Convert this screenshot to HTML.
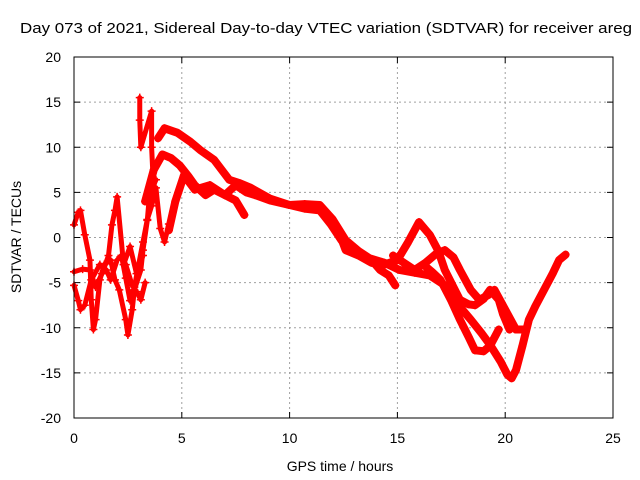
<!DOCTYPE html>
<html><head><meta charset="utf-8"><style>
body{margin:0;background:#fff;}
svg{display:block;font-family:"Liberation Sans",sans-serif;}
</style></head><body>
<svg id="chart" width="640" height="480" viewBox="0 0 640 480">
<rect x="0" y="0" width="640" height="480" fill="#fff"/>
<text x="20" y="33" font-size="15" fill="#000" textLength="612" lengthAdjust="spacingAndGlyphs">Day 073 of 2021, Sidereal Day-to-day VTEC variation (SDTVAR) for receiver areg</text>
<g id="grid"></g>
<g id="ticks"></g>
<g id="series"></g>
<rect x="74" y="57" width="539" height="361" fill="none" stroke="#000" stroke-width="1"/>
<text transform="translate(21,237) rotate(-90)" text-anchor="middle" font-size="14">SDTVAR / TECUs</text>
<text x="340" y="471" text-anchor="middle" font-size="14">GPS time / hours</text>
</svg>
<script>
const xTicks=[0,5,10,15,20,25];
const yTicks=[20,15,10,5,0,-5,-10,-15,-20];
const trackA_t=[3.9,4.2,4.8,5.4,5.85,6.5,7.2,7.7,8.2,9.1,10,10.7,11.4,12.0,12.6,13.2,13.7,14.4,15.1,15.8,16.5,17.2,17.8,18.4,18.9,19.3,19.8,20.1,20.3,20.5,20.8,21.1,21.4,21.8,22.2,22.5,22.8];
const trackA_v=[11,12.1,11.6,10.6,9.7,8.6,6.4,6.0,5.5,4.3,3.6,3.7,3.6,2.0,-0.3,-1.5,-2.3,-2.8,-3.6,-3.9,-4.2,-5.3,-7.4,-9.1,-10.6,-11.9,-13.8,-15.2,-15.6,-14.7,-12.0,-9.1,-7.6,-5.8,-4.0,-2.5,-1.9];
const trackB_t=[3.3,3.7,4.1,4.5,4.9,5.3,5.6,6.1,6.5,7.0,7.5,7.9];
const trackB_v=[4.0,7.5,9.2,8.8,8.0,6.8,5.8,4.7,5.3,4.7,4.1,2.5];
const trackC_t=[4.4,4.7,5.1,5.6,6.3,7.0,7.5,8.0,8.4,9.1,10,10.7,11.4,11.9,12.4,13.2,13.8,14.2,14.6,14.9];
const trackC_v=[0.8,4.0,6.9,5.3,5.8,4.7,5.8,5.0,4.7,4.1,3.6,3.2,3.0,1.5,-0.3,-1.9,-2.5,-3.6,-4.2,-5.3];
const trackD_t=[11.9,12.3,12.6,13.2,13.8,14.4,15.0,15.5,16.0,16.5,16.9,17.2,17.6,17.9,18.3,18.6,19.0,19.3,19.7,19.9,20.2];
const trackD_v=[1.9,0.5,-1.4,-2.0,-2.8,-3.0,-2.5,-0.5,1.7,0.3,-1.5,-3.6,-5.5,-6.9,-7.4,-7.5,-6.8,-5.8,-6.9,-8.5,-10.2];
const trackE_t=[14.8,15.3,15.8,16.3,16.8,17.2,17.6,17.9,18.4,18.8,19.2,19.5,20.0,20.5,20.9];
const trackE_v=[-2.0,-2.8,-3.6,-2.8,-1.8,-1.4,-2.2,-3.6,-5.8,-6.9,-6.4,-5.8,-8.0,-10.2,-10.2];
const trackF_t=[16.2,16.6,17.0,17.5,17.9,18.3,18.6,19.0,19.3,19.7];
const trackF_v=[-3.0,-3.8,-4.7,-7.0,-9.1,-11.0,-12.5,-12.6,-12.0,-10.2];
const trackG_t=[0,0.2,0.3,0.5,0.74,0.8,0.9,1.0,1.2,1.4,1.7,1.9,2.1,2.4,2.5,2.7,2.8,3.1,3.2,3.4,3.5,3.8];
const trackG_v=[1.4,2.8,3.0,0.3,-2.5,-6.9,-10.2,-9.1,-4.7,-3.0,-2.5,-4.7,-5.8,-9.1,-10.8,-8.0,-5.8,-3.6,-1.4,1.9,4.7,6.4];
const trackH_t=[0,0.2,0.3,0.5,0.8,1.2,1.5,1.7,2.0,2.2,2.4,2.7,2.9,3.1,3.3];
const trackH_v=[-5.3,-7.0,-8.0,-7.5,-4.7,-3.0,-3.6,-4.7,-2.5,-2.0,-3.0,-5.3,-6.0,-6.9,-5.0];
const trackI_t=[0,0.4,0.74,1.0,1.3,1.6,1.76,1.9,2.0,2.3,2.6,2.9,3.2];
const trackI_v=[-3.8,-3.5,-3.6,-5.5,-4.0,-2.0,1.4,3.0,4.5,-3.0,-1.0,-4.0,-2.0];
const trackK_t=[2.2,2.4,2.6,2.8,3.0,3.2,3.4,3.6,3.8,4.0,4.2,4.4];
const trackK_v=[-2.0,-4.5,-7.0,-5.5,-3.0,-0.5,2.0,3.5,5.5,1.0,-0.5,1.5];
const trackJ_t=[3.05,3.05,3.1,3.6,3.6,3.7];
const trackJ_v=[15.5,13.0,10.0,14.0,10.0,5.0];

const X0=74,X1=613,Y0=418,Y1=57;
function xs(t){return X0+(t-0)/(25-0)*(X1-X0);}
function ys(v){return Y0-(v+20)/40*(Y0-Y1);}
const NS='http://www.w3.org/2000/svg';
const grid=document.getElementById('grid'),ticks=document.getElementById('ticks'),series=document.getElementById('series');
function mk(tag,attrs,parent){const e=document.createElementNS(NS,tag);for(const k in attrs)e.setAttribute(k,attrs[k]);parent.appendChild(e);return e;}
xTicks.forEach(t=>{
  const x=xs(t);
  if(t>0&&t<25){const g=mk('line',{x1:x,x2:x,y1:Y1,y2:Y0,stroke:'#a0a0a0','stroke-dasharray':'2,3'},grid);
  
  }
  const l=mk('text',{x:x,y:443,'text-anchor':'middle','font-size':'14'},ticks);l.textContent=t;
  
  
  mk('line',{x1:x,x2:x,y1:Y0,y2:Y0-6,stroke:'#000'},ticks);
  mk('line',{x1:x,x2:x,y1:Y1,y2:Y1+6,stroke:'#000'},ticks);
});
yTicks.forEach(v=>{
  const y=ys(v);
  if(v>-20&&v<20){const g=mk('line',{x1:X0,x2:X1,y1:y,y2:y,stroke:'#a0a0a0','stroke-dasharray':'2,3'},grid);
  
  }
  const l=mk('text',{x:61,y:y+5,'text-anchor':'end','font-size':'14'},ticks);l.textContent=v;
  
  
  mk('line',{x1:X0,x2:X0+6,y1:y,y2:y,stroke:'#000'},ticks);
  mk('line',{x1:X1,x2:X1-6,y1:y,y2:y,stroke:'#000'},ticks);
});
const tracks=[[trackA_t,trackA_v],[trackB_t,trackB_v],[trackC_t,trackC_v],[trackD_t,trackD_v],[trackE_t,trackE_v],[trackF_t,trackF_v],[trackG_t,trackG_v],[trackH_t,trackH_v],[trackI_t,trackI_v],[trackK_t,trackK_v],[trackJ_t,trackJ_v]];
tracks.forEach((tr,i)=>{
  const pts=tr[0].map((t,j)=>xs(t)+','+ys(tr[1][j])).join(' ');
  const pl=mk('polyline',{points:pts,fill:'none',stroke:'#ff0000','stroke-width':i>=6?5:8,'stroke-linejoin':'round','stroke-linecap':'round'},series);
  
  
  tr[0].forEach((t,j)=>{
    const x=xs(t),y=ys(tr[1][j]);
    const m=mk('path',{d:`M${x-4},${y}H${x+4}M${x},${y-4}V${y+4}`,stroke:'#ff0000','stroke-width':1.5},series);
    
    
  });
});
</script>
</body></html>
